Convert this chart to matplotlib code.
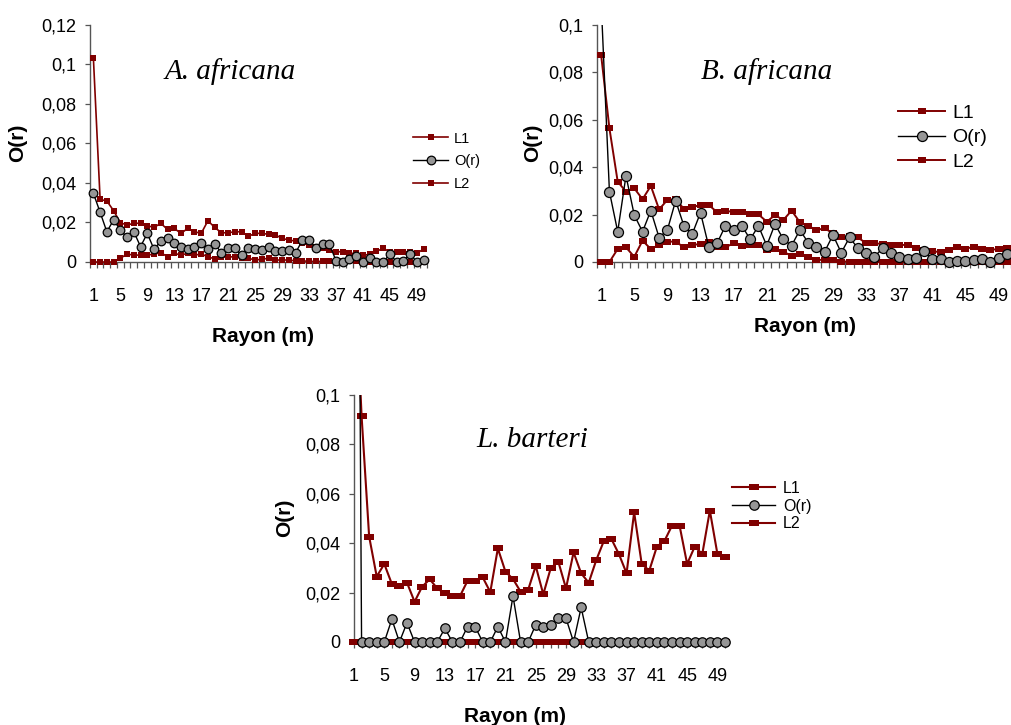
import numpy as np
import matplotlib.pyplot as plt
from matplotlib.transforms import Bbox, TransformedBbox

plt.rcParams['font.family'] = ['Liberation Sans', 'DejaVu Sans']

W, H = 1011, 725
DARKRED = '#800000'
GREY = '#969696'
AXCOL = '#555555'

# ---- data ----
rayon = list(range(1, 51))
tick_every = list(range(1, 50, 4))

a_L1 = [0.1035, 0.0317, 0.0309, 0.0260, 0.0199, 0.0187, 0.0196, 0.0196, 0.0184, 0.0175,
        0.0196, 0.0165, 0.0170, 0.0145, 0.0170, 0.0153, 0.0145, 0.0209, 0.0175, 0.0148,
        0.0148, 0.0153, 0.0153, 0.0130, 0.0145, 0.0145, 0.0140, 0.0137, 0.0120, 0.0111,
        0.0106, 0.0094, 0.0086, 0.0077, 0.0069, 0.0061, 0.0052, 0.0052, 0.0044, 0.0044,
        0.0035, 0.0038, 0.0054, 0.0069, 0.0052, 0.0052, 0.0052, 0.0052, 0.0045, 0.0065]
a_Or = [0.0348, 0.0252, 0.0153, 0.0213, 0.0162, 0.0125, 0.0153, 0.0078, 0.0145, 0.0064,
        0.0106, 0.0120, 0.0098, 0.0078, 0.0066, 0.0078, 0.0098, 0.0066, 0.0090, 0.0047,
        0.0069, 0.0069, 0.0035, 0.0072, 0.0068, 0.0060, 0.0078, 0.0058, 0.0058, 0.0060,
        0.0046, 0.0110, 0.0113, 0.0069, 0.0091, 0.0091, 0.0007, 0.0002, 0.0014, 0.0030,
        0.0000, 0.0019, 0.0000, 0.0000, 0.0040, 0.0000, 0.0007, 0.0040, 0.0000, 0.0010]
a_L2 = [0.0000, 0.0000, 0.0000, 0.0000, 0.0019, 0.0040, 0.0035, 0.0035, 0.0035, 0.0040,
        0.0047, 0.0027, 0.0044, 0.0035, 0.0044, 0.0035, 0.0040, 0.0027, 0.0015, 0.0025,
        0.0025, 0.0027, 0.0019, 0.0019, 0.0010, 0.0014, 0.0019, 0.0010, 0.0010, 0.0010,
        0.0006, 0.0006, 0.0003, 0.0003, 0.0003, 0.0003, 0.0003, 0.0003, 0.0003, 0.0003,
        0.0000, 0.0000, 0.0000, 0.0000, 0.0000, 0.0000, 0.0000, 0.0000, 0.0000, 0.0000]

b_L1 = [0.0873, 0.0564, 0.0339, 0.0297, 0.0311, 0.0265, 0.0321, 0.0222, 0.0262, 0.0265,
        0.0224, 0.0231, 0.0241, 0.0241, 0.0210, 0.0217, 0.0210, 0.0210, 0.0201, 0.0201,
        0.0170, 0.0198, 0.0177, 0.0217, 0.0168, 0.0152, 0.0135, 0.0142, 0.0121, 0.0104,
        0.0110, 0.0104, 0.0079, 0.0079, 0.0076, 0.0072, 0.0072, 0.0072, 0.0058, 0.0051,
        0.0046, 0.0041, 0.0051, 0.0065, 0.0055, 0.0065, 0.0055, 0.0051, 0.0055, 0.0058]
b_Or = [0.1100, 0.0297, 0.0128, 0.0364, 0.0198, 0.0128, 0.0217, 0.0103, 0.0135, 0.0259,
        0.0152, 0.0118, 0.0208, 0.0065, 0.0079, 0.0152, 0.0135, 0.0152, 0.0096, 0.0152,
        0.0069, 0.0160, 0.0096, 0.0069, 0.0135, 0.0082, 0.0065, 0.0044, 0.0114, 0.0039,
        0.0104, 0.0058, 0.0039, 0.0022, 0.0058, 0.0039, 0.0022, 0.0013, 0.0015, 0.0048,
        0.0013, 0.0013, 0.0000, 0.0006, 0.0006, 0.0008, 0.0013, 0.0000, 0.0015, 0.0034]
b_L2 = [0.0000, 0.0000, 0.0055, 0.0062, 0.0022, 0.0090, 0.0055, 0.0072, 0.0086, 0.0086,
        0.0062, 0.0072, 0.0076, 0.0086, 0.0062, 0.0062, 0.0079, 0.0069, 0.0072, 0.0072,
        0.0051, 0.0055, 0.0044, 0.0025, 0.0032, 0.0020, 0.0008, 0.0010, 0.0010, 0.0002,
        0.0002, 0.0000, 0.0000, 0.0000, 0.0000, 0.0000, 0.0000, 0.0000, 0.0000, 0.0000,
        0.0000, 0.0000, 0.0000, 0.0000, 0.0000, 0.0000, 0.0000, 0.0000, 0.0000, 0.0000]

c_L1 = [0.1600, 0.0915, 0.0427, 0.0265, 0.0316, 0.0235, 0.0227, 0.0240, 0.0163, 0.0224,
        0.0254, 0.0217, 0.0197, 0.0186, 0.0186, 0.0248, 0.0248, 0.0262, 0.0202, 0.0379,
        0.0285, 0.0255, 0.0204, 0.0211, 0.0308, 0.0193, 0.0301, 0.0324, 0.0217, 0.0363,
        0.0278, 0.0240, 0.0332, 0.0409, 0.0417, 0.0355, 0.0278, 0.0525, 0.0316, 0.0289,
        0.0386, 0.0409, 0.0471, 0.0471, 0.0316, 0.0386, 0.0356, 0.0532, 0.0356, 0.0346]
c_Or = [0.5000, 0.0000, 0.0000, 0.0000, 0.0000, 0.0092, 0.0000, 0.0078, 0.0000, 0.0000,
        0.0000, 0.0000, 0.0055, 0.0000, 0.0000, 0.0062, 0.0062, 0.0000, 0.0000, 0.0062,
        0.0000, 0.0186, 0.0000, 0.0000, 0.0069, 0.0062, 0.0069, 0.0096, 0.0096, 0.0000,
        0.0140, 0.0000, 0.0000, 0.0000, 0.0000, 0.0000, 0.0000, 0.0000, 0.0000, 0.0000,
        0.0000, 0.0000, 0.0000, 0.0000, 0.0000, 0.0000, 0.0000, 0.0000, 0.0000, 0.0000]
c_L2 = [0.0000, 0.0000, 0.0000, 0.0000, 0.0000, 0.0000, 0.0000, 0.0000, 0.0000, 0.0000,
        0.0000, 0.0000, 0.0000, 0.0000, 0.0000, 0.0000, 0.0000, 0.0000, 0.0000, 0.0000,
        0.0000, 0.0000, 0.0000, 0.0000, 0.0000, 0.0000, 0.0000, 0.0000, 0.0000, 0.0000,
        0.0000, 0.0000, 0.0000, 0.0000, 0.0000, 0.0000, 0.0000, 0.0000, 0.0000, 0.0000,
        0.0000, 0.0000, 0.0000, 0.0000, 0.0000, 0.0000, 0.0000, 0.0000, 0.0000, 0.0000]


def px_axes(fig, left, top, right, bottom):
    return fig.add_axes([left / W, 1 - bottom / H, (right - left) / W, (bottom - top) / H])


def rect_marker(ratio):
    h = 1.0 / ratio
    return [(-1, -h), (1, -h), (1, h), (-1, h), (-1, -h)]


def yfmt(v):
    return '0' if v == 0 else ('%g' % v).replace('.', ',')


def draw_panel(ax, L1, Or, L2, ymax, sq, ratio, circ, lw, on_ticks=False):
    # clip only at the top (values above the axis), keep markers on the x axis whole
    clip = TransformedBbox(Bbox([[-0.05, -0.2], [1.05, 1.0]]), ax.transAxes)
    kw = dict(color=DARKRED, lw=lw, marker=rect_marker(ratio), ms=sq, mew=0, zorder=3)
    h1, = ax.plot(rayon, L1, label='L1', **kw)
    h2, = ax.plot(rayon, L2, label='L2', **kw)
    h3, = ax.plot(rayon, Or, label='O(r)', color='black', lw=1.0, marker='o', ms=circ,
                  mfc=GREY, mec='black', mew=0.9, zorder=4)
    for h in (h1, h2, h3):
        h.set_clip_path(None)
        h.set_clip_box(clip)

    ax.set_ylim(0, ymax)
    yt = np.round(np.arange(0, ymax + 1e-9, 0.02), 2)
    ax.set_yticks(yt)
    ax.set_yticklabels([yfmt(v) for v in yt])
    ax.set_xticks(tick_every)
    ax.set_xticklabels([str(t) for t in tick_every])
    if on_ticks:
        ax.set_xlim(1, 50)
        ax.set_xticks(rayon, minor=True)
        ax.tick_params(axis='x', which='both', length=4.3, width=0.9, color=AXCOL)
        ax.tick_params(axis='x', which='major', pad=14.4)
    else:
        ax.set_xlim(0.5, 50.5)
        ax.set_xticks(np.arange(0.5, 51, 1), minor=True)
        ax.tick_params(axis='x', which='minor', length=4.3, width=0.9, color=AXCOL)
        ax.tick_params(axis='x', which='major', length=0, pad=18.7)
    ax.tick_params(axis='y', length=3.6, width=0.9, color=AXCOL, pad=6)
    ax.tick_params(labelsize=13)
    for s in ('top', 'right'):
        ax.spines[s].set_visible(False)
    for s in ('left', 'bottom'):
        ax.spines[s].set_color(AXCOL)
        ax.spines[s].set_linewidth(1.0)
    ax.set_facecolor('none')
    return [h1, h3, h2]


def put_legend(fig, ax, handles, x_px, top_px, fs, hl, ls, htp):
    ax.legend(handles, [h.get_label() for h in handles], loc='upper left',
              bbox_to_anchor=(x_px / W, 1 - top_px / H), bbox_transform=fig.transFigure,
              frameon=False, fontsize=fs, handlelength=hl, labelspacing=ls,
              handletextpad=htp, borderpad=0, borderaxespad=0, numpoints=1)


fig = plt.figure(figsize=(W / 100, H / 100), dpi=100)

axA = px_axes(fig, 90, 25, 427, 262)
hA = draw_panel(axA, a_L1, a_Or, a_L2, 0.12, sq=5.0, ratio=1.25, circ=6.2, lw=1.2)
put_legend(fig, axA, hA, 413, 131.6, 10.5, 2.4, 0.59, 0.4)

axB = px_axes(fig, 597, 25, 1011, 262)
hB = draw_panel(axB, b_L1, b_Or, b_L2, 0.1, sq=5.5, ratio=1.4, circ=7.2, lw=1.4)
put_legend(fig, axB, hB, 898, 104.5, 14, 2.42, 0.345, 0.36)

axC = px_axes(fig, 354, 395, 725, 642)
hC = draw_panel(axC, c_L1, c_Or, c_L2, 0.1, sq=7.2, ratio=1.8, circ=6.8, lw=1.5, on_ticks=True)
put_legend(fig, axC, hC, 732, 481, 11.5, 2.7, 0.17, 0.5)

serif = ['Liberation Serif', 'DejaVu Serif']
fig.text(230 / W, 1 - 72 / H, 'A. africana', fontsize=21, style='italic', family=serif,
         ha='center', va='center')
fig.text(767 / W, 1 - 72 / H, 'B. africana', fontsize=21, style='italic', family=serif,
         ha='center', va='center')
fig.text(532 / W, 1 - 440 / H, 'L. barteri', fontsize=21, style='italic', family=serif,
         ha='center', va='center')

for (x, y) in [(263, 337), (805, 326), (515, 717)]:
    fig.text(x / W, 1 - y / H, 'Rayon (m)', fontsize=15, weight='bold', ha='center', va='center')
for (x, y) in [(18, 143), (533, 143), (285, 518)]:
    fig.text(x / W, 1 - y / H, 'O(r)', fontsize=15, weight='bold', rotation=90,
             ha='center', va='center')

fig.savefig('out.png', dpi=100)
